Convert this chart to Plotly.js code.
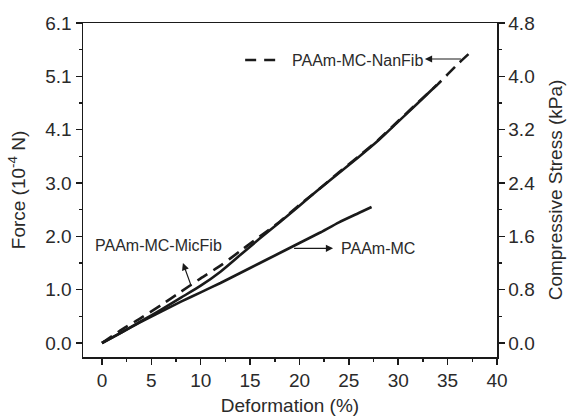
<!DOCTYPE html>
<html>
<head>
<meta charset="utf-8">
<script src="https://cdn.plot.ly/plotly-3.0.1.min.js"></script>
<style>html,body{margin:0;padding:0;background:#fff;}#chart{width:567px;height:418px;}</style>
</head>
<body>
<div id="chart"></div>
<script>
// Deformation (%) and compressive stress (kPa)
const xMC = [0, 2, 4, 6, 8, 10, 12, 14, 16, 18, 20, 22, 24, 26, 27.3];
const yMC = [0, 0.16, 0.32, 0.47, 0.62, 0.76, 0.90, 1.05, 1.20, 1.35, 1.50, 1.65, 1.81, 1.95, 2.04];

const xMicFib = [0, 2, 4, 6, 8, 10, 12, 14, 16, 18, 20, 22, 24, 26, 28, 30, 32, 33.9];
const yMicFib = [0, 0.16, 0.33, 0.50, 0.68, 0.86, 1.07, 1.32, 1.57, 1.81, 2.06, 2.31, 2.55, 2.79, 3.04, 3.32, 3.60, 3.87];

const xNanFib = [0, 2, 4, 6, 8, 10, 12, 14, 16, 18, 20, 22, 24, 26, 28, 30, 32, 34, 36, 37.6];
const yNanFib = [0, 0.20, 0.38, 0.57, 0.77, 0.97, 1.16, 1.38, 1.60, 1.82, 2.07, 2.31, 2.56, 2.80, 3.05, 3.33, 3.61, 3.88, 4.18, 4.40];

const xTicks = [0, 5, 10, 15, 20, 25, 30, 35, 40];
const stressTicks = [0, 0.8, 1.6, 2.4, 3.2, 4.0, 4.8];
const forceTickText = ['0.0', '1.0', '2.0', '3.0', '4.1', '5.1', '6.1'];

const forceMax = 6.1, stressMax = 4.8, stressMin = -0.21;
const k = forceMax / stressMax;
const forceTickVals = stressTicks.map(v => v * k);

const font = {family: 'Liberation Sans, Arial, sans-serif', color: '#2a2a2a'};
const lineCol = '#1a1a1a';

const traces = [
  {x: [], y: [], xaxis: 'x', yaxis: 'y', showlegend: false, hoverinfo: 'skip'},
  {x: xMC, y: yMC, yaxis: 'y2', mode: 'lines', name: 'PAAm-MC',
   line: {color: lineCol, width: 2.6, shape: 'spline', smoothing: 0.6}},
  {x: xMicFib, y: yMicFib, yaxis: 'y2', mode: 'lines', name: 'PAAm-MC-MicFib',
   line: {color: lineCol, width: 2.6, shape: 'spline', smoothing: 0.6}},
  {x: xNanFib, y: yNanFib, yaxis: 'y2', mode: 'lines', name: 'PAAm-MC-NanFib',
   line: {color: lineCol, width: 2.6, dash: '12px,7px', shape: 'spline', smoothing: 0.6}}
];

const axisCommon = {
  showgrid: false, zeroline: false, showline: true, linecolor: lineCol, linewidth: 1.5,
  ticks: 'outside', ticklen: 6, tickwidth: 1.5, tickcolor: lineCol,
  tickfont: Object.assign({size: 19}, font)
};

const layout = {
  width: 567, height: 418,
  margin: {l: 83, r: 70, t: 23, b: 61},
  paper_bgcolor: '#fff', plot_bgcolor: '#fff',
  showlegend: false,
  xaxis: Object.assign({}, axisCommon, {
    range: [-1.92, 40], tickvals: xTicks, mirror: true,
    minor: {dtick: 2.5, tick0: 0, ticks: 'outside', ticklen: 3, tickwidth: 1.5, tickcolor: lineCol},
    title: {text: 'Deformation (%)', font: Object.assign({size: 19}, font), standoff: 8}
  }),
  yaxis: Object.assign({}, axisCommon, {
    range: [stressMin * k, forceMax], tickvals: forceTickVals, ticktext: forceTickText,
    minor: {dtick: forceMax / 12, tick0: 0, ticks: 'outside', ticklen: 3, tickwidth: 1.5, tickcolor: lineCol},
    title: {text: 'Force (10<sup>-4</sup> N)', font: Object.assign({size: 19}, font), standoff: 14}
  }),
  yaxis2: Object.assign({}, axisCommon, {
    overlaying: 'y', side: 'right',
    range: [stressMin, stressMax], tickvals: stressTicks, ticktext: stressTicks.map(v => v.toFixed(1)),
    minor: {dtick: 0.4, tick0: 0, ticks: 'outside', ticklen: 3, tickwidth: 1.5, tickcolor: lineCol},
    title: {text: 'Compressive Stress (kPa)', font: Object.assign({size: 19}, font), standoff: 14}
  }),
  shapes: [
    {type: 'line', xref: 'x', yref: 'y2', x0: 14.5, x1: 17.8, y0: 4.245, y1: 4.245,
     line: {color: lineCol, width: 2.6, dash: '11px,8px'}}
  ],
  annotations: [
    {text: 'PAAm-MC-NanFib', x: 19.0, y: 4.245, xref: 'x', yref: 'y2', xanchor: 'left', yanchor: 'middle',
     showarrow: false, font: Object.assign({size: 16}, font)},
    {text: '', x: 32.7, y: 4.26, ax: 36.5, ay: 4.26, xref: 'x', yref: 'y2', axref: 'x', ayref: 'y2',
     showarrow: true, arrowhead: 2, arrowsize: 1.2, arrowwidth: 1.2, arrowcolor: lineCol},
    {text: 'PAAm-MC-MicFib', x: -0.9, y: 1.47, xref: 'x', yref: 'y2', xanchor: 'left', yanchor: 'middle',
     showarrow: false, font: Object.assign({size: 16}, font)},
    {text: '', x: 8.2, y: 1.2, ax: 9.1, ay: 0.83, xref: 'x', yref: 'y2', axref: 'x', ayref: 'y2',
     showarrow: true, arrowhead: 2, arrowsize: 1.2, arrowwidth: 1.2, arrowcolor: lineCol},
    {text: 'PAAm-MC', x: 24.0, y: 1.42, xref: 'x', yref: 'y2', xanchor: 'left', yanchor: 'middle',
     showarrow: false, font: Object.assign({size: 16}, font)},
    {text: '', x: 23.4, y: 1.42, ax: 19.3, ay: 1.42, xref: 'x', yref: 'y2', axref: 'x', ayref: 'y2',
     showarrow: true, arrowhead: 2, arrowsize: 1.2, arrowwidth: 1.2, arrowcolor: lineCol}
  ]
};

Plotly.newPlot('chart', traces, layout, {displayModeBar: false, staticPlot: true});
</script>
</body>
</html>
